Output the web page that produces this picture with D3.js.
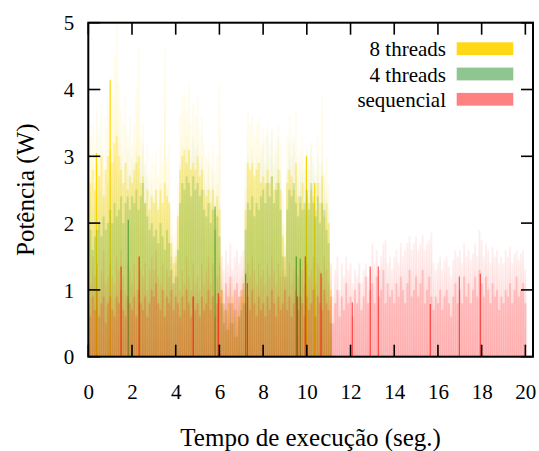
<!DOCTYPE html>
<html><head><meta charset="utf-8">
<script src="https://cdn.jsdelivr.net/npm/d3@7"></script>
<style>
body{margin:0;background:#fff}
svg{display:block}
text{font-family:"Liberation Serif","Times New Roman",serif;fill:#000}
</style>
</head><body>
<svg id="chart" width="539" height="451" font-family="Liberation Serif, serif"></svg>
<script>
// ---------------- DATA ----------------
const sampleStep = 0.1; // seconds between samples
const seriesNames = ["8 threads", "4 threads", "sequencial"];
const xTicks = [0, 2, 4, 6, 8, 10, 12, 14, 16, 18, 20];
const yTicks = [0, 1, 2, 3, 4, 5];

// 8 threads: faint peak tips and dense body level (W), t = 0.0 .. 11.1
const gold8Peak = [
 3.6,3.3,3.5,3.2,3.7,3.4,3.8,3.1,3.6,3.9,
 4.2,3.9,4.5,5.0,4.1,3.7,3.5,3.9,3.3,3.6,
 3.2,3.5,4.0,4.6,3.3,3.5,2.9,3.2,2.8,3.0,
 2.9,3.1,2.7,3.2,2.9,4.6,3.0,3.2,2.2,1.8,
 1.9,2.6,3.6,3.9,4.0,3.7,4.1,3.5,3.8,3.6,
 3.9,3.4,3.6,3.2,3.0,3.1,2.9,3.2,2.8,3.0,
 4.1,1.6,1.0,0.7,1.1,0.8,1.2,0.6,1.0,0.9,
 1.2,1.3,2.9,3.7,3.5,3.6,3.3,3.5,3.6,3.2,
 3.4,3.3,3.5,3.2,3.4,3.1,3.3,3.5,3.2,2.4,
 2.0,3.3,3.6,3.4,3.2,3.7,3.0,2.9,3.3,2.8,
 3.1,2.9,3.2,3.0,2.8,3.3,2.9,3.9,2.7,3.0,
 2.6,1.4];
const gold8Body = [
 2.9,2.6,2.8,2.5,2.9,2.7,3.0,2.4,2.8,3.0,
 3.1,2.9,3.2,3.3,3.0,2.8,2.6,2.9,2.5,2.7,
 2.6,2.8,2.9,3.0,2.6,2.7,2.3,2.5,2.2,2.4,
 2.3,2.5,2.2,2.5,2.3,2.6,2.4,2.3,1.7,1.4,
 1.5,2.1,2.8,3.0,3.1,2.9,3.1,2.8,2.9,2.8,
 3.0,2.7,2.8,2.5,2.4,2.5,2.3,2.5,2.2,2.4,
 2.2,1.0,0.7,0.4,0.8,0.5,0.9,0.3,0.7,0.6,
 0.9,1.0,2.2,2.9,2.8,2.9,2.7,2.8,2.9,2.6,
 2.7,2.6,2.8,2.6,2.7,2.5,2.6,2.8,2.5,1.8,
 1.5,2.6,2.8,2.7,2.5,2.9,2.4,2.3,2.6,2.2,
 2.4,2.3,2.5,2.4,2.2,2.6,2.3,2.7,2.1,2.3,
 2.0,1.0];
const gold8SolidT = [0.37, 1.0, 9.98, 10.36];
const gold8SolidV = [3.05, 4.14, 3.0, 2.6];

// 4 threads, t = 0.0 .. 11.1
const green4Peak = [
 2.3,2.5,2.2,2.6,2.4,2.7,2.5,2.8,2.4,2.6,
 2.9,2.6,3.0,2.8,2.7,3.0,2.6,2.9,3.1,2.8,
 3.0,2.9,3.1,2.8,3.0,3.2,2.9,2.7,2.5,2.6,
 2.4,2.5,2.3,2.6,2.3,2.2,2.5,2.3,1.8,1.5,
 1.6,2.2,2.9,3.2,3.0,3.3,3.1,3.0,3.3,3.1,
 3.2,2.9,3.0,2.8,2.6,2.9,2.5,2.8,2.4,2.6,
 2.3,1.2,0.8,1.0,0.7,1.1,0.8,1.0,0.6,0.9,
 1.0,1.2,2.5,3.0,2.8,3.1,2.7,3.0,2.9,3.1,
 3.2,2.9,3.3,3.0,3.4,2.9,3.1,3.3,2.8,2.0,
 1.7,2.8,3.2,3.0,3.3,2.9,2.7,3.1,2.8,2.9,
 3.1,2.8,3.2,2.9,2.7,3.0,2.6,2.9,2.8,2.5,
 2.2,0.8];
const green4Body = [
 1.7,1.9,1.6,1.8,1.9,2.0,1.8,2.1,1.9,2.0,
 2.2,2.0,2.3,2.1,2.2,2.4,2.0,2.3,2.4,2.2,
 2.4,2.3,2.5,2.2,2.4,2.6,2.3,2.1,1.9,2.0,
 1.8,1.9,1.7,2.0,1.8,1.6,1.9,1.7,1.3,1.1,
 1.2,1.6,2.3,2.6,2.5,2.7,2.6,2.4,2.7,2.5,
 2.6,2.4,2.5,2.2,2.1,2.3,2.0,2.2,1.9,2.1,
 1.8,0.8,0.5,0.7,0.4,0.8,0.5,0.7,0.3,0.6,
 0.7,0.8,1.9,2.3,2.2,2.4,2.1,2.3,2.2,2.4,
 2.5,2.3,2.6,2.4,2.7,2.3,2.5,2.6,2.2,1.5,
 1.2,2.2,2.5,2.4,2.6,2.3,2.1,2.4,2.2,2.3,
 2.5,2.2,2.6,2.3,2.1,2.4,2.0,2.3,2.2,1.9,
 1.7,0.5];
const green4SolidT = [1.83, 5.8, 7.2, 9.52, 9.7];
const green4SolidV = [2.05, 2.25, 1.24, 1.5, 1.47];

// sequencial, t = 0.0 .. 20.0
const seqPeak = [
 1.3,1.1,1.5,1.2,1.4,1.0,1.3,1.6,1.1,1.2,
 1.4,1.2,1.1,1.5,1.3,1.6,1.2,1.0,1.4,1.3,
 1.1,1.4,1.0,1.5,1.3,1.2,1.4,1.0,1.3,1.5,
 1.3,1.6,1.2,1.1,1.4,1.0,1.3,1.2,1.5,1.1,
 1.4,1.2,1.0,1.3,1.1,1.5,1.2,1.0,1.4,1.1,
 1.2,1.0,1.4,1.1,1.3,1.5,1.1,1.4,1.0,1.2,
 1.4,1.5,1.3,1.6,1.4,1.7,1.3,1.5,1.6,1.4,
 1.5,1.6,1.3,1.4,1.2,1.5,1.3,1.1,1.4,1.2,
 1.3,1.1,1.4,1.2,1.5,1.3,1.1,1.4,1.2,1.3,
 1.5,1.2,1.4,1.1,1.3,1.5,1.2,1.4,1.3,1.1,
 1.4,1.2,1.3,1.5,1.1,1.4,1.3,1.2,1.5,1.3,
 1.1,1.4,0.9,1.3,1.5,1.0,1.4,1.2,1.5,1.3,
 1.4,1.1,1.3,1.2,1.4,1.1,1.3,1.4,1.2,1.3,
 1.7,1.4,1.6,1.3,1.5,1.7,1.75,1.4,1.5,1.3,
 1.5,1.6,1.4,1.7,1.5,1.6,1.7,1.8,1.6,1.7,
 1.8,1.6,1.7,1.83,1.6,1.7,1.75,1.86,1.4,1.3,
 1.4,1.5,1.3,1.45,1.5,1.35,1.2,1.45,1.6,1.5,
 1.6,1.4,1.7,1.5,1.6,1.45,1.55,1.7,1.5,1.9,
 1.75,1.5,1.7,1.6,1.4,1.65,1.5,1.6,1.4,1.5,
 1.4,1.6,1.5,1.65,1.4,1.55,1.6,1.45,1.55,1.6,
 1.3];
const seqBody = [
 0.8,0.6,0.9,0.7,1.0,0.6,0.8,0.9,0.5,0.8,
 0.9,0.7,0.6,0.9,0.8,1.0,0.7,0.6,0.9,0.8,
 0.7,0.9,0.6,1.0,0.8,0.7,0.9,0.6,0.8,1.0,
 0.9,1.1,0.8,0.7,1.0,0.6,0.9,0.8,1.0,0.7,
 0.9,0.8,0.6,0.9,0.7,1.0,0.8,0.6,0.9,0.7,
 0.8,0.6,0.9,0.7,0.8,1.0,0.7,0.9,0.6,0.8,
 0.9,1.0,0.8,1.1,0.9,1.2,0.8,1.0,1.1,0.9,
 1.0,1.1,0.8,0.9,0.7,1.0,0.8,0.6,0.9,0.7,
 0.8,0.6,0.9,0.7,1.0,0.8,0.6,0.9,0.7,0.8,
 1.0,0.7,0.9,0.6,0.8,1.0,0.7,0.9,0.8,0.6,
 0.9,0.7,0.8,1.0,0.6,0.9,0.8,0.7,1.0,0.8,
 0.7,0.9,0.5,0.8,1.0,0.6,0.9,0.7,1.1,0.8,
 0.9,0.6,1.0,0.8,1.1,0.7,0.9,1.2,0.8,1.0,
 1.1,0.8,1.2,0.9,1.0,1.3,0.8,1.1,0.9,1.0,
 0.8,1.1,0.9,1.2,1.0,0.8,1.1,1.3,0.9,1.0,
 1.2,0.9,1.1,1.3,0.8,1.0,1.2,0.9,0.7,0.9,
 0.8,1.0,0.7,0.9,1.0,0.8,0.6,0.9,1.1,0.8,
 1.0,0.8,1.2,0.9,1.1,0.8,1.0,1.2,0.9,1.3,
 1.1,0.9,1.2,1.0,0.8,1.1,0.9,1.0,0.7,0.9,
 0.8,1.0,0.9,1.1,0.8,1.0,1.2,0.9,1.0,1.1,
 0.8];
const seqSolidT = [1.5, 2.33, 4.8, 5.95, 7.28, 9.57, 9.93, 10.65, 12.08, 12.9, 13.27, 15.65, 16.98, 17.94];
const seqSolidV = [1.35, 1.5, 0.9, 0.95, 1.1, 0.9, 1.5, 1.25, 0.81, 1.35, 1.35, 0.79, 1.2, 1.24];

// ---------------- LAYOUT ----------------
const plot = {left: 88.3, right: 533, top: 22.7, bottom: 356.7};

const svg = d3.select("#chart");
const x = d3.scaleLinear().domain([0, 20.35]).range([plot.left, plot.right]);
const y = d3.scaleLinear().domain([0, 5]).range([plot.bottom, plot.top]);

const defs = svg.append("defs");
defs.append("clipPath").attr("id", "clip")
  .append("rect").attr("x", plot.left).attr("y", plot.top)
  .attr("width", plot.right - plot.left).attr("height", plot.bottom - plot.top);

function fadeGradient(id, color, bottomA, topA) {
  const lg = defs.append("linearGradient").attr("id", id)
    .attr("x1", 0).attr("y1", 1).attr("x2", 0).attr("y2", 0);
  lg.append("stop").attr("offset", 0).attr("stop-color", color).attr("stop-opacity", bottomA);
  lg.append("stop").attr("offset", 0.55).attr("stop-color", color).attr("stop-opacity", bottomA * 0.75);
  lg.append("stop").attr("offset", 1).attr("stop-color", color).attr("stop-opacity", topA);
}

const g = svg.append("g").attr("clip-path", "url(#clip)");
const colW = x(sampleStep) - x(0);

function drawSeries(key, peak, body, solidT, solidV, color, cfg) {
  fadeGradient("fade-" + key, color, cfg.peakA, cfg.tipA);
  const grp = g.append("g");
  grp.selectAll(null).data(body).join("rect")
    .attr("x", (d, i) => x(i * sampleStep) - colW / 2)
    .attr("width", colW + 0.05)
    .attr("y", d => y(d))
    .attr("height", d => y(0) - y(d))
    .attr("fill", color).attr("fill-opacity", cfg.bodyA);
  grp.selectAll(null).data(peak).join("rect")
    .attr("x", (d, i) => x(i * sampleStep) - cfg.peakW / 2)
    .attr("width", cfg.peakW)
    .attr("y", d => y(d))
    .attr("height", d => y(0) - y(d))
    .attr("fill", `url(#fade-${key})`);
  grp.selectAll(null).data(solidT).join("line")
    .attr("x1", d => x(d)).attr("x2", d => x(d))
    .attr("y1", y(0)).attr("y2", (d, i) => y(solidV[i]))
    .attr("stroke", color).attr("stroke-width", 1.2).attr("stroke-opacity", cfg.lineA);
}

drawSeries("g8", gold8Peak, gold8Body, gold8SolidT, gold8SolidV, "#ffd700",
  {peakW: 1.9, peakA: 0.3, tipA: 0.06, bodyA: 0.3, lineA: 1});
drawSeries("g4", green4Peak, green4Body, green4SolidT, green4SolidV, "#008000",
  {peakW: 1.9, peakA: 0.13, tipA: 0.02, bodyA: 0.15, lineA: 0.55});
drawSeries("sq", seqPeak, seqBody, seqSolidT, seqSolidV, "#ff0000",
  {peakW: 1.9, peakA: 0.2, tipA: 0.06, bodyA: 0.15, lineA: 0.65});

// ---------------- AXES ----------------
const tickLen = 12;
const axes = svg.append("g").attr("stroke", "#000").attr("stroke-width", 1.6);
xTicks.forEach(t => {
  axes.append("line").attr("x1", x(t)).attr("x2", x(t)).attr("y1", plot.bottom).attr("y2", plot.bottom - tickLen);
  axes.append("line").attr("x1", x(t)).attr("x2", x(t)).attr("y1", plot.top).attr("y2", plot.top + tickLen);
});
yTicks.forEach(v => {
  axes.append("line").attr("x1", plot.left).attr("x2", plot.left + tickLen).attr("y1", y(v)).attr("y2", y(v));
  axes.append("line").attr("x1", plot.right).attr("x2", plot.right - tickLen).attr("y1", y(v)).attr("y2", y(v));
});
svg.append("rect").attr("x", plot.left).attr("y", plot.top)
  .attr("width", plot.right - plot.left).attr("height", plot.bottom - plot.top)
  .attr("fill", "none").attr("stroke", "#000").attr("stroke-width", 2);

const xAxis = d3.axisBottom(x).tickValues(xTicks).tickSize(0).tickPadding(0).tickFormat(d3.format("d"));
const xa = svg.append("g").attr("transform", `translate(0,${plot.bottom})`).call(xAxis)
  .attr("font-family", "Liberation Serif, serif");
xa.select(".domain").remove();
xa.selectAll("text").attr("y", 42).attr("dy", null).attr("font-size", 21).attr("fill", "#000");

const yAxis = d3.axisLeft(y).tickValues(yTicks).tickSize(0).tickPadding(0).tickFormat(d3.format("d"));
const ya = svg.append("g").attr("transform", `translate(${plot.left},0)`).call(yAxis)
  .attr("font-family", "Liberation Serif, serif");
ya.select(".domain").remove();
ya.selectAll("text").attr("x", -14).attr("dy", "0.34em").attr("font-size", 21).attr("fill", "#000");

svg.append("text").attr("x", (plot.left + plot.right) / 2).attr("y", 446)
  .attr("text-anchor", "middle").attr("font-size", 25).text("Tempo de execução (seg.)");
svg.append("text").attr("transform", `translate(34,${(plot.top + plot.bottom) / 2}) rotate(-90)`)
  .attr("text-anchor", "middle").attr("font-size", 25).text("Potência (W)");

// ---------------- LEGEND ----------------
const legendColors = ["#ffd915", "#8fc58f", "#ff8080"];
const leg = svg.append("g");
seriesNames.forEach((name, i) => {
  const cy = 48.7 + i * 25.3;
  leg.append("text").attr("x", 446).attr("y", cy + 7.5).attr("text-anchor", "end")
    .attr("font-size", 21).text(name);
  leg.append("rect").attr("x", 456.7).attr("y", cy - 6.4).attr("width", 56.6).attr("height", 12.8)
    .attr("fill", legendColors[i]);
});
</script>
</body></html>
